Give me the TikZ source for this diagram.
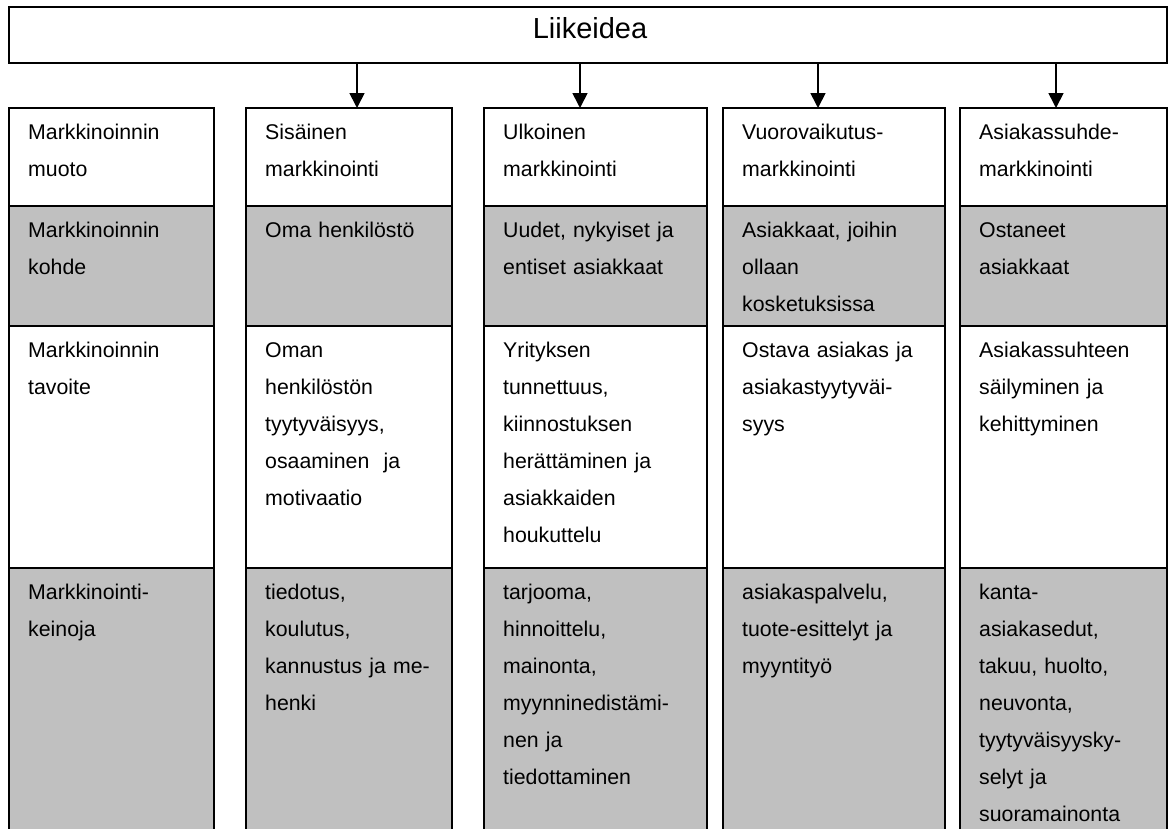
\documentclass[tikz,border=0pt]{standalone}
\usepackage{fontspec}
\setmainfont{Liberation Sans}
\usetikzlibrary{arrows.meta,calc}
\definecolor{harmaa}{RGB}{192,192,192}

\begin{document}
\begin{tikzpicture}[x=1pt, y=-1pt, font=\fontsize{21.3}{37}\selectfont]
  \tikzset{
    valk/.style={draw, line width=1.7pt, inner sep=0pt, outer sep=0pt, anchor=north west},
    harm/.style={valk, fill=harmaa},
    teksti/.style={anchor=base west, text width=185pt, align=left, inner sep=0pt},
    nuoli/.style={line width=1.7pt, -{Triangle[width=15pt,length=15pt]}}
  }
  \useasboundingbox (0,0) rectangle (1174,828);

  % Liikeidea
  \node[valk, minimum width=1158, minimum height=56] (idea) at (9,7) {};
  \node[anchor=base, inner sep=0pt, font=\fontsize{29}{34}\selectfont] (ideateksti) at (590,38) {Liikeidea};

  % Solut: muoto, kohde, tavoite, keinot
  \foreach \x/\w/\n in {9/205/1, 246/206/2, 484/223/3, 723/222/4, 960/207/5} {
    \node[valk, minimum width=\w, minimum height=98] (m\n) at (\x,108) {};
    \node[harm, minimum width=\w, minimum height=120] (k\n) at (\x,206) {};
    \node[valk, minimum width=\w, minimum height=242] (t\n) at (\x,326) {};
    \node[harm, minimum width=\w, minimum height=280] (e\n) at (\x,568) {};
  }

  % Nuolet
  \coordinate (n2) at (357,0);
  \coordinate (n3) at (580,0);
  \coordinate (n4) at (818,0);
  \coordinate (n5) at (1056,0);
  \foreach \n in {2,3,4,5}
    \draw[nuoli] (idea.south -| n\n) -- (m\n.north -| n\n);

  % --- Markkinoinnin muoto ---
  \node[teksti] (mt1) at ($(m1.north west)+(19,31)$) {Markkinoinnin\\muoto};
  \node[teksti] (mt2) at ($(m2.north west)+(19,31)$) {Sisäinen\\markkinointi};
  \node[teksti] (mt3) at ($(m3.north west)+(19,31)$) {Ulkoinen\\markkinointi};
  \node[teksti] (mt4) at ($(m4.north west)+(19,31)$) {Vuorovaikutus-\\markkinointi};
  \node[teksti] (mt5) at ($(m5.north west)+(19,31)$) {Asiakassuhde-\\markkinointi};

  % --- Markkinoinnin kohde ---
  \node[teksti] (kt1) at ($(k1.north west)+(19,31)$) {Markkinoinnin\\kohde};
  \node[teksti] (kt2) at ($(k2.north west)+(19,31)$) {Oma henkilöstö};
  \node[teksti] (kt3) at ($(k3.north west)+(19,31)$) {Uudet, nykyiset ja\\entiset asiakkaat};
  \node[teksti] (kt4) at ($(k4.north west)+(19,31)$) {Asiakkaat, joihin\\ollaan\\kosketuksissa};
  \node[teksti] (kt5) at ($(k5.north west)+(19,31)$) {Ostaneet\\asiakkaat};

  % --- Markkinoinnin tavoite ---
  \node[teksti] (tt1) at ($(t1.north west)+(19,31)$) {Markkinoinnin\\tavoite};
  \node[teksti] (tt2) at ($(t2.north west)+(19,31)$) {Oman\\henkilöstön\\tyytyväisyys,\\osaaminen\ \ ja\\motivaatio};
  \node[teksti] (tt3) at ($(t3.north west)+(19,31)$) {Yrityksen\\tunnettuus,\\kiinnostuksen\\herättäminen ja\\asiakkaiden\\houkuttelu};
  \node[teksti] (tt4) at ($(t4.north west)+(19,31)$) {Ostava asiakas ja\\asiakastyytyväi-\\syys};
  \node[teksti] (tt5) at ($(t5.north west)+(19,31)$) {Asiakassuhteen\\säilyminen ja\\kehittyminen};

  % --- Markkinointikeinot ---
  \node[teksti] (et1) at ($(e1.north west)+(19,31)$) {Markkinointi-\\keinoja};
  \node[teksti] (et2) at ($(e2.north west)+(19,31)$) {tiedotus,\\koulutus,\\kannustus ja me-\\henki};
  \node[teksti] (et3) at ($(e3.north west)+(19,31)$) {tarjooma,\\hinnoittelu,\\mainonta,\\myynninedistämi-\\nen ja\\tiedottaminen};
  \node[teksti] (et4) at ($(e4.north west)+(19,31)$) {asiakaspalvelu,\\tuote-esittelyt ja\\myyntityö};
  \node[teksti] (et5) at ($(e5.north west)+(19,31)$) {kanta-\\asiakasedut,\\takuu, huolto,\\neuvonta,\\tyytyväisyysky-\\selyt ja\\suoramainonta};
\end{tikzpicture}
\end{document}
